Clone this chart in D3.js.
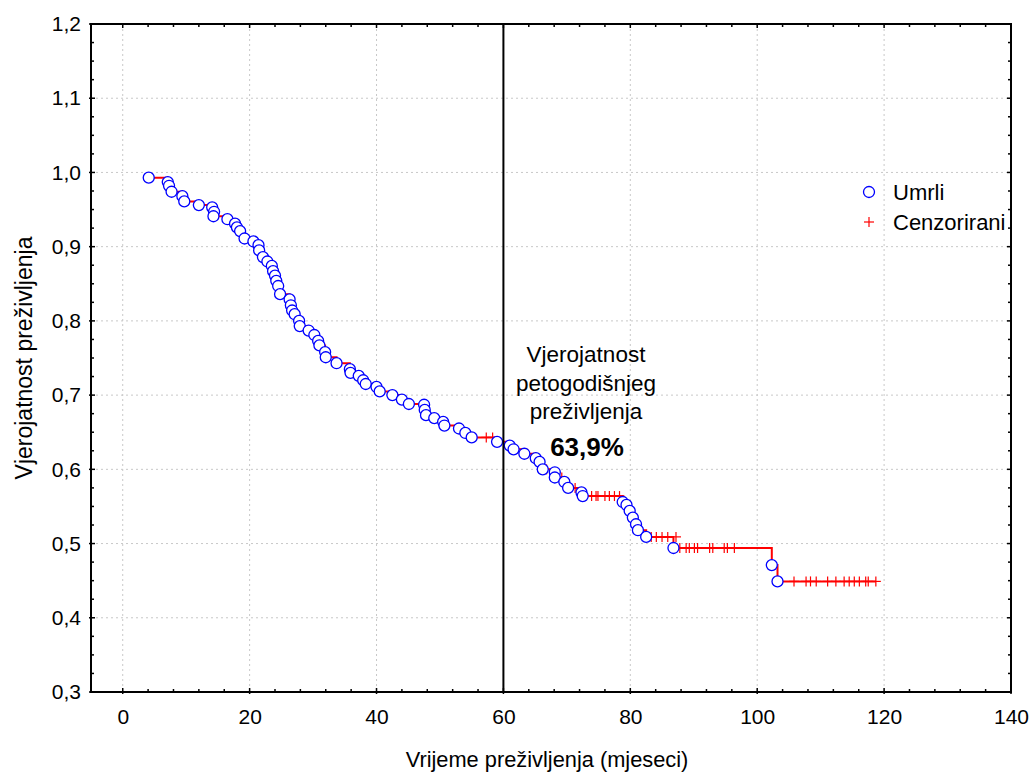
<!DOCTYPE html>
<html>
<head>
<meta charset="utf-8">
<script src="https://cdn.jsdelivr.net/npm/d3@7"></script>
<style>
  body { margin: 0; background: #fff; }
  svg { display: block; }
  text { font-family: "Liberation Sans", Arial, Helvetica, sans-serif; fill: #000; }
</style>
</head>
<body>
<svg id="chart" width="1033" height="773"></svg>
<script>
// ---- Data ----
const deathTimes = [4.1, 7.1, 7.3, 7.7, 9.4, 9.7, 12.0, 14.1, 14.4, 14.3, 16.5, 17.7, 18.0, 18.5, 19.2,
  20.6, 21.4, 21.5, 22.1, 22.8, 23.5, 23.7, 24.0, 24.2, 24.5, 24.8, 26.3, 26.5, 26.7, 27.1, 27.8, 27.9,
  29.3, 30.2, 30.8, 31.0, 31.9, 32.0, 33.7, 35.8, 35.9, 37.2, 37.9, 38.3, 40.0, 40.5, 42.5, 44.0, 45.1,
  47.5, 47.6, 47.8, 49.1, 50.5, 50.7, 53.0, 54.0, 55.0, 59.0, 61.0, 61.6, 63.3, 65.1, 65.7, 66.2, 68.1,
  68.1, 69.6, 70.2, 72.3, 72.5, 78.8, 79.4, 79.9, 80.4, 80.9, 81.2, 82.5, 86.8, 102.3, 103.2];
const deathSurv = [0.993, 0.987, 0.982, 0.974, 0.968, 0.961, 0.956, 0.953, 0.947, 0.941, 0.937, 0.931, 0.926,
  0.921, 0.911, 0.907, 0.902, 0.895, 0.886, 0.880, 0.874, 0.867, 0.861, 0.854, 0.847, 0.836, 0.829, 0.821,
  0.814, 0.809, 0.800, 0.793, 0.787, 0.781, 0.773, 0.767, 0.758, 0.751, 0.743, 0.735, 0.730, 0.726, 0.720,
  0.715, 0.711, 0.705, 0.700, 0.694, 0.688, 0.687, 0.680, 0.673, 0.669, 0.664, 0.659, 0.655, 0.649, 0.643,
  0.637, 0.632, 0.627, 0.621, 0.615, 0.610, 0.600, 0.596, 0.589, 0.583, 0.575, 0.569, 0.564, 0.556, 0.552,
  0.544, 0.535, 0.526, 0.518, 0.509, 0.494, 0.471, 0.449];
const censTimes = [57.3, 58.3, 62.0, 63.8, 66.8, 69.2, 71.3, 73.9, 74.6, 74.9, 76.0, 76.7, 77.5, 78.3,
  83.3, 84.1, 85.0, 85.9, 87.2, 87.8, 88.8, 89.3, 90.1, 90.6, 92.5, 93.0, 94.8, 95.3, 96.4,
  105.8, 107.7, 108.4, 109.3, 111.1, 112.4, 113.7, 114.5, 115.3, 116.1, 117.1, 117.5, 118.7];
const censSurv = [0.643, 0.643, 0.627, 0.621, 0.600, 0.589, 0.575, 0.564, 0.564, 0.564, 0.564, 0.564, 0.564, 0.564,
  0.509, 0.509, 0.509, 0.509, 0.509, 0.494, 0.494, 0.494, 0.494, 0.494, 0.494, 0.494, 0.494, 0.494, 0.494,
  0.449, 0.449, 0.449, 0.449, 0.449, 0.449, 0.449, 0.449, 0.449, 0.449, 0.449, 0.449, 0.449];
const xTicks = [0, 20, 40, 60, 80, 100, 120, 140];
const yTicks = [0.3, 0.4, 0.5, 0.6, 0.7, 0.8, 0.9, 1.0, 1.1, 1.2];
const xDomain = [-5, 140];
const yDomain = [0.3, 1.2];
const markTime = 60;
const annotationLines = ["Vjerojatnost", "petogodišnjeg", "preživljenja"];
const annotationValue = "63,9%";
const legendLabels = ["Umrli", "Cenzorirani"];
const xTitle = "Vrijeme preživljenja (mjeseci)";
const yTitle = "Vjerojatnost preživljenja";

// ---- Layout ----
const L = 91, R = 1011, T = 24, B = 692;
const svg = d3.select("#chart");
const x = d3.scaleLinear().domain(xDomain).range([L, R]);
const y = d3.scaleLinear().domain(yDomain).range([B, T]);
const fmt = d => d3.format(".1f")(d).replace(".", ",");

// grid
const grid = svg.append("g").attr("stroke", "#c8c8c8").attr("stroke-width", 1).attr("stroke-dasharray", "2,3");
xTicks.filter(d => d > xDomain[0] && d < xDomain[1]).forEach(d => {
  grid.append("line").attr("x1", x(d)).attr("x2", x(d)).attr("y1", T).attr("y2", B);
});
yTicks.filter(d => d > yDomain[0] + 1e-9 && d < yDomain[1] - 1e-9).forEach(d => {
  grid.append("line").attr("x1", L).attr("x2", R).attr("y1", y(d)).attr("y2", y(d));
});

// axes (ticks inward, labels outside)
const xMinor = d3.range(0, 141, 4);
const yMinor = d3.range(0, 37).map(i => +(0.3 + i * 0.025).toFixed(3));
const axB = d3.axisBottom(x).tickValues(xTicks).tickSize(0).tickPadding(17).tickFormat(d3.format("d"));
svg.append("g").attr("transform", `translate(0,${B})`).call(axB)
  .call(g => g.select(".domain").remove())
  .call(g => g.selectAll("text").attr("font-size", 21).style("font-family", "Liberation Sans, Arial, sans-serif"));
const axL = d3.axisLeft(y).tickValues(yTicks).tickSize(0).tickPadding(10).tickFormat(fmt);
svg.append("g").attr("transform", `translate(${L},0)`).call(axL)
  .call(g => g.select(".domain").remove())
  .call(g => g.selectAll("text").attr("font-size", 21).style("font-family", "Liberation Sans, Arial, sans-serif"));

const tk = svg.append("g").attr("stroke", "#000").attr("stroke-width", 1.5);
xMinor.forEach(d => {
  const major = xTicks.includes(d);
  const len = major ? 4 : 3;
  tk.append("line").attr("x1", x(d)).attr("x2", x(d)).attr("y1", B - len).attr("y2", B + (major ? 2 : 0));
  tk.append("line").attr("x1", x(d)).attr("x2", x(d)).attr("y1", T).attr("y2", T + len);
});
yMinor.forEach(d => {
  const major = yTicks.some(t => Math.abs(t - d) < 1e-6);
  const len = major ? 4 : 3;
  tk.append("line").attr("x1", L - (major ? 2 : 0)).attr("x2", L + len).attr("y1", y(d)).attr("y2", y(d));
  tk.append("line").attr("x1", R - len).attr("x2", R).attr("y1", y(d)).attr("y2", y(d));
});

// titles
svg.append("text").attr("x", (L + R) / 2 - 4).attr("y", 767).attr("text-anchor", "middle")
  .attr("font-size", 21.8).text(xTitle);
svg.append("text").attr("transform", `translate(32,${(T + B) / 2}) rotate(-90)`).attr("text-anchor", "middle")
  .attr("font-size", 23).text(yTitle);

// KM step line
const stepPts = [];
deathTimes.forEach((t, i) => {
  if (i === 0) { stepPts.push([t, deathSurv[i]]); return; }
  stepPts.push([t, deathSurv[i - 1]]);
  stepPts.push([t, deathSurv[i]]);
});
stepPts.push([d3.max(censTimes), deathSurv[deathSurv.length - 1]]);
const line = d3.line().x(d => x(d[0])).y(d => y(d[1]));
svg.append("path").datum(stepPts).attr("d", line).attr("fill", "none")
  .attr("stroke", "#ff0000").attr("stroke-width", 2);

// censored marks
const cg = svg.append("g").attr("stroke", "#ff0000").attr("stroke-width", 1.2);
censTimes.forEach((t, i) => {
  const cx = x(t), cy = y(censSurv[i]);
  cg.append("line").attr("x1", cx - 5).attr("x2", cx + 5).attr("y1", cy).attr("y2", cy);
  cg.append("line").attr("x1", cx).attr("x2", cx).attr("y1", cy - 5).attr("y2", cy + 5);
});

// death circles
svg.append("g").selectAll("circle").data(deathTimes).join("circle")
  .attr("cx", d => x(d)).attr("cy", (d, i) => y(deathSurv[i])).attr("r", 5.5)
  .attr("fill", "#fff").attr("stroke", "#0000ff").attr("stroke-width", 1.3);

// 5-year line
svg.append("line").attr("x1", x(markTime)).attr("x2", x(markTime)).attr("y1", T).attr("y2", B)
  .attr("stroke", "#000").attr("stroke-width", 2);

// frame
svg.append("rect").attr("x", L).attr("y", T).attr("width", R - L).attr("height", B - T)
  .attr("fill", "none").attr("stroke", "#000").attr("stroke-width", 2);

// annotation
const ax = 586;
annotationLines.forEach((s, i) => {
  svg.append("text").attr("x", ax).attr("y", 362 + i * 28.5).attr("text-anchor", "middle")
    .attr("font-size", 22.5).text(s);
});
svg.append("text").attr("x", ax + 1).attr("y", 456).attr("text-anchor", "middle")
  .attr("font-size", 26).attr("font-weight", "bold").text(annotationValue);

// legend
svg.append("circle").attr("cx", 869).attr("cy", 192).attr("r", 5.5)
  .attr("fill", "#fff").attr("stroke", "#0000ff").attr("stroke-width", 1.3);
svg.append("text").attr("x", 893).attr("y", 200).attr("font-size", 22).text(legendLabels[0]);
const lp = svg.append("g").attr("stroke", "#ff0000").attr("stroke-width", 1.2);
lp.append("line").attr("x1", 864).attr("x2", 874).attr("y1", 222).attr("y2", 222);
lp.append("line").attr("x1", 869).attr("x2", 869).attr("y1", 217).attr("y2", 227);
svg.append("text").attr("x", 893).attr("y", 230).attr("font-size", 22).text(legendLabels[1]);
</script>
</body>
</html>
